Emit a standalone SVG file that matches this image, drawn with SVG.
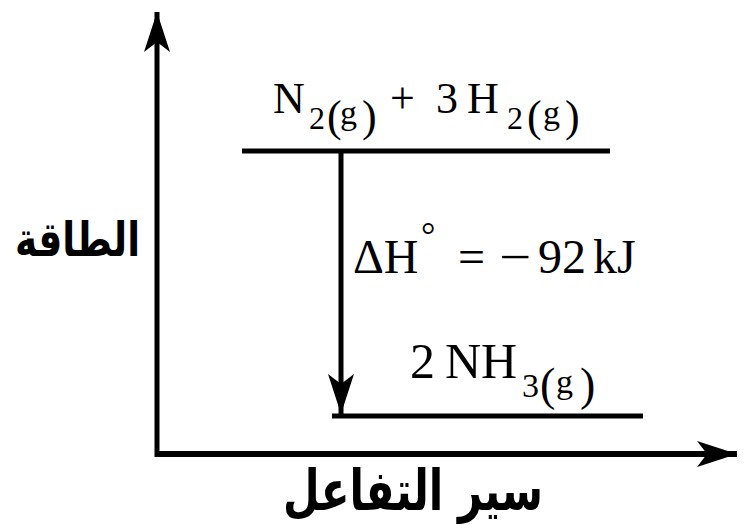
<svg xmlns="http://www.w3.org/2000/svg" width="745" height="525" viewBox="0 0 745 525">
<style>
.ln{stroke:#000;fill:none}
.t{font-family:"Liberation Serif","Times New Roman",serif;fill:#000}
.ar{font-family:"DejaVu Sans",sans-serif;font-weight:bold;fill:#000}
</style>
<defs>
<marker id="ah" markerUnits="userSpaceOnUse" markerWidth="50" markerHeight="30" viewBox="-42 -15 44 30" refX="0" refY="0" orient="auto">
<path d="M0,0 L-40,-13 L-30,0 L-40,13 Z" fill="#000"/>
</marker>
</defs>
<rect width="745" height="525" fill="#fff"/>
<g id="connectors">
<line class="ln" x1="157" y1="457" x2="157" y2="12" stroke-width="5" marker-end="url(#ah)"/>
<line class="ln" x1="155" y1="454" x2="737" y2="454" stroke-width="6" marker-end="url(#ah)"/>
<line class="ln" x1="341" y1="151" x2="341" y2="414" stroke-width="5" marker-end="url(#ah)"/>
</g>
<g id="reactants">
<line class="ln" x1="242" y1="151" x2="610" y2="151" stroke-width="5"/>
<text class="t" x="273" y="113" font-size="44">N</text>
<text class="t" x="309" y="129" font-size="32">2</text>
<text class="t" x="327" y="131" font-size="44">(</text>
<text class="t" x="340" y="124" font-size="34">g</text>
<text class="t" x="362" y="131" font-size="44">)</text>
<text class="t" x="390" y="113" font-size="44">+</text>
<text class="t" x="436" y="113" font-size="44">3</text>
<text class="t" x="467" y="113" font-size="44">H</text>
<text class="t" x="507" y="129" font-size="32">2</text>
<text class="t" x="527" y="131" font-size="44">(</text>
<text class="t" x="543" y="124" font-size="34">g</text>
<text class="t" x="565" y="131" font-size="44">)</text>
</g>
<g id="products">
<line class="ln" x1="332" y1="416" x2="643" y2="416" stroke-width="5"/>
<text class="t" x="410" y="378" font-size="50">2</text>
<text class="t" x="445" y="378" font-size="50">NH</text>
<text class="t" x="522" y="397" font-size="34">3</text>
<text class="t" x="540" y="400" font-size="46">(</text>
<text class="t" x="556" y="393" font-size="34">g</text>
<text class="t" x="580" y="400" font-size="46">)</text>
</g>
<g id="deltaH">
<text class="t" x="353" y="273" font-size="48">ΔH</text>
<text class="t" x="421" y="247" font-size="36">°</text>
<text class="t" x="458" y="273" font-size="48">=</text>
<text class="t" x="499" y="273" font-size="48" textLength="32" lengthAdjust="spacingAndGlyphs">−</text>
<text class="t" x="538" y="273" font-size="48">92</text>
<text class="t" x="593" y="273" font-size="48">kJ</text>
</g>
<g id="ylabel">
<text class="ar" x="15" y="256" font-size="48" textLength="125" lengthAdjust="spacingAndGlyphs">الطاقة</text>
</g>
<g id="xlabel">
<text class="ar" x="283" y="510" font-size="56" textLength="260" lengthAdjust="spacingAndGlyphs">سير التفاعل</text>
</g>
</svg>
